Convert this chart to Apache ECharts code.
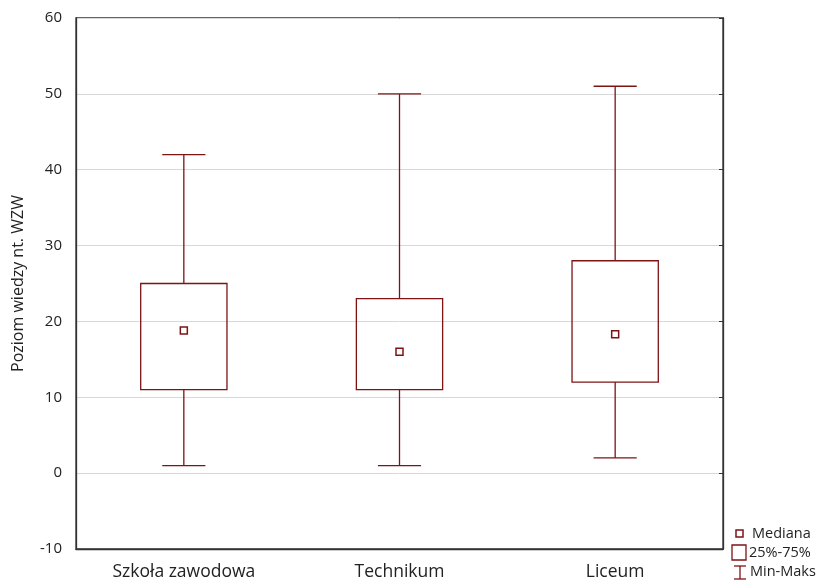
<!DOCTYPE html>
<html>
<head>
<meta charset="utf-8">
<script src="https://cdn.jsdelivr.net/npm/echarts@6/dist/echarts.min.js"></script>
<style>html,body{margin:0;padding:0;background:#fff}#c{width:823px;height:582px}</style>
</head>
<body>
<div id="c"></div>
<script>
const categories = ['Szkoła zawodowa', 'Technikum', 'Liceum'];
const minVals = [1, 1, 2];
const q1Vals = [11, 11, 12];
const medianVals = [18.8, 16, 18.3];
const q3Vals = [25, 23, 28];
const maxVals = [42, 50, 51];
const yTicks = [-10, 0, 10, 20, 30, 40, 50, 60];
const legendLabels = ['Mediana', '25%-75%', 'Min-Maks'];

const RED = '#7d1315';
const FONT = '"Open Sans", "Noto Sans", sans-serif';

const chart = echarts.init(document.getElementById('c'), null, {renderer: 'canvas'});
const data = categories.map((c, i) => [i, minVals[i], q1Vals[i], medianVals[i], q3Vals[i], maxVals[i]]);

function renderItem(params, api) {
  const i = api.value(0);
  const pMin = api.coord([i, api.value(1)]);
  const pQ1 = api.coord([i, api.value(2)]);
  const pMed = api.coord([i, api.value(3)]);
  const pQ3 = api.coord([i, api.value(4)]);
  const pMax = api.coord([i, api.value(5)]);
  const band = api.size([1, 0])[0];
  const bw = band * 0.4;
  const cw = band * 0.2;
  const x = pMin[0];
  const ls = {stroke: RED, lineWidth: 1.3, fill: null};
  return {
    type: 'group',
    children: [
      {type: 'line', shape: {x1: x, y1: pMax[1], x2: x, y2: pQ3[1]}, style: ls},
      {type: 'line', shape: {x1: x, y1: pQ1[1], x2: x, y2: pMin[1]}, style: ls},
      {type: 'line', shape: {x1: x - cw / 2, y1: pMax[1], x2: x + cw / 2, y2: pMax[1]}, style: ls},
      {type: 'line', shape: {x1: x - cw / 2, y1: pMin[1], x2: x + cw / 2, y2: pMin[1]}, style: ls},
      {type: 'rect', shape: {x: x - bw / 2, y: pQ3[1], width: bw, height: pQ1[1] - pQ3[1]}, style: {stroke: RED, lineWidth: 1.3, fill: 'rgba(0,0,0,0)'}},
      {type: 'rect', shape: {x: x - 3.5, y: pMed[1] - 3.5, width: 7, height: 7}, style: {stroke: RED, lineWidth: 1.5, fill: '#fff'}}
    ]
  };
}

const tf = {fontFamily: FONT, fontSize: 14.5, fill: '#222'};
const option = {
  animation: false,
  backgroundColor: '#fff',
  grid: {left: 76, right: 100, top: 18, bottom: 33, show: true, borderColor: '#333', borderWidth: 1.3},
  xAxis: {
    type: 'category', data: categories,
    axisLine: {onZero: false, lineStyle: {color: '#333', width: 1.3}},
    axisTick: {alignWithLabel: true, length: 4, lineStyle: {color: '#333'}},
    axisLabel: {fontFamily: FONT, fontSize: 17.5, color: '#222', margin: 14},
    splitLine: {show: false}
  },
  yAxis: [{
    type: 'value', min: yTicks[0], max: yTicks[yTicks.length - 1], interval: 10,
    name: 'Poziom wiedzy nt. WZW', nameLocation: 'middle', nameGap: 50,
    nameTextStyle: {fontFamily: FONT, fontSize: 16, color: '#222'},
    axisLine: {show: true, onZero: false, lineStyle: {color: '#333', width: 1.3}},
    axisTick: {show: false},
    axisLabel: {fontFamily: FONT, fontSize: 15, color: '#222', margin: 14},
    splitLine: {lineStyle: {color: '#d8d8d8'}}
  }, {
    type: 'value', position: 'right', min: yTicks[0], max: yTicks[yTicks.length - 1], interval: 10,
    axisLine: {show: true, lineStyle: {color: '#333', width: 1.3}},
    axisTick: {show: true, inside: true, length: 4, lineStyle: {color: '#333'}},
    axisLabel: {show: false},
    splitLine: {show: false}
  }],
  series: [{type: 'custom', renderItem: renderItem, data: data, encode: {x: 0, y: [1, 2, 3, 4, 5]}, z: 3}],
  graphic: [
    {type: 'rect', shape: {x: 736, y: 530, width: 7, height: 7}, style: {stroke: RED, lineWidth: 1.5, fill: '#fff'}},
    {type: 'text', x: 752, y: 533.5, style: Object.assign({text: legendLabels[0], textVerticalAlign: 'middle'}, tf)},
    {type: 'rect', shape: {x: 732, y: 545, width: 14, height: 15}, style: {stroke: RED, lineWidth: 1.3, fill: '#fff'}},
    {type: 'text', x: 749, y: 552.5, style: Object.assign({text: legendLabels[1], textVerticalAlign: 'middle'}, tf)},
    {type: 'line', shape: {x1: 740, y1: 566, x2: 740, y2: 579}, style: {stroke: RED, lineWidth: 1.3}},
    {type: 'line', shape: {x1: 734, y1: 566, x2: 746, y2: 566}, style: {stroke: RED, lineWidth: 1.3}},
    {type: 'line', shape: {x1: 734, y1: 579, x2: 746, y2: 579}, style: {stroke: RED, lineWidth: 1.3}},
    {type: 'text', x: 750, y: 571.5, style: Object.assign({text: legendLabels[2], textVerticalAlign: 'middle'}, tf)}
  ]
};
chart.setOption(option);
</script>
</body>
</html>
